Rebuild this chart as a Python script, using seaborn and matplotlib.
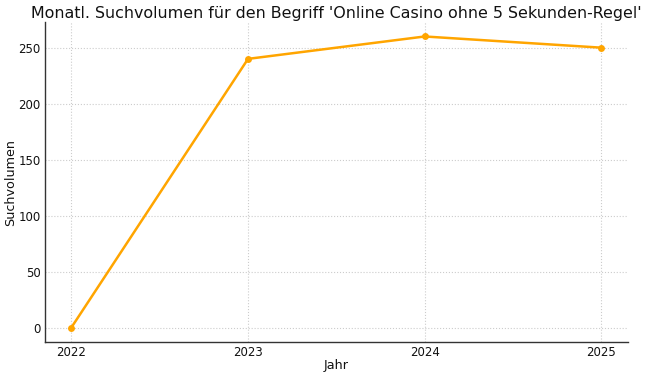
import pandas as pd
import matplotlib
matplotlib.use('Agg')
import matplotlib.pyplot as plt
import seaborn as sns

years = [2022, 2023, 2024, 2025]
volume = [0, 240, 260, 250]

df = pd.DataFrame({'Jahr': years, 'Suchvolumen': volume})

sns.set_style('white')
plt.rcParams['font.family'] = ['DejaVu Sans']
plt.rcParams['text.color'] = '#111111'
plt.rcParams['axes.labelcolor'] = '#111111'
plt.rcParams['xtick.color'] = '#111111'
plt.rcParams['ytick.color'] = '#111111'

fig = plt.figure(figsize=(6.5, 3.78), dpi=100)
ax = fig.add_axes([0.069, 0.095, 0.897, 0.847])

sns.lineplot(data=df, x='Jahr', y='Suchvolumen', color='#FFA500', marker='o',
             markersize=5, markeredgewidth=0, linewidth=1.8, ax=ax)

ax.set_title("Monatl. Suchvolumen für den Begriff 'Online Casino ohne 5 Sekunden-Regel'",
             fontsize=11.4, pad=3)
ax.set_xlabel('Jahr', fontsize=9.2, labelpad=0)
ax.set_ylabel('Suchvolumen', fontsize=9.2, labelpad=1)
ax.set_xticks(years)
ax.set_xticklabels([str(y) for y in years])
ax.tick_params(labelsize=8.5, length=3, direction='in', pad=3)
ax.grid(True, linestyle=':', color='#cccccc', linewidth=0.8)
for s in ['top', 'right']:
    ax.spines[s].set_visible(False)
for s in ['left', 'bottom']:
    ax.spines[s].set_color('#333333')
    ax.spines[s].set_linewidth(1.0)

fig.savefig('out.png', dpi=100)
plt.close()
